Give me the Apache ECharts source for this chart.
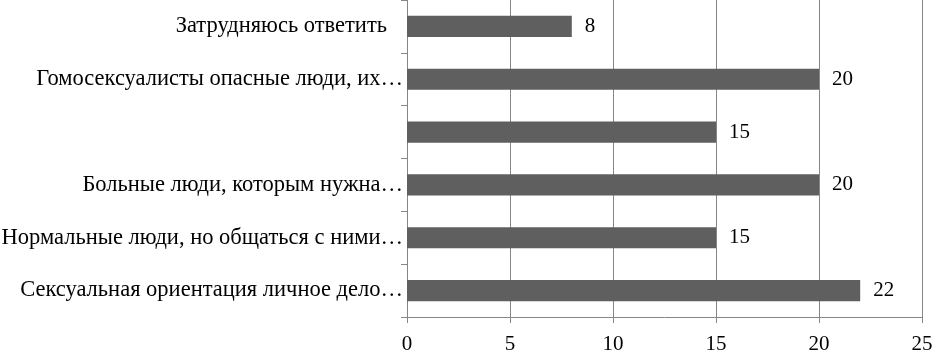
<!DOCTYPE html>
<html>
<head>
<meta charset="utf-8">
<script src="https://cdn.jsdelivr.net/npm/echarts@6/dist/echarts.min.js"></script>
<style>
  html, body { margin: 0; padding: 0; background: #ffffff; }
  #chart { width: 932px; height: 352px; }
</style>
</head>
<body>
<div id="chart"></div>
<script>
// Answers, listed bottom to top as they appear on the category axis
const categories = [
  'Сексуальная ориентация личное дело…',
  'Нормальные люди, но общаться с ними…',
  'Больные люди, которым нужна…',
  '',
  'Гомосексуалисты опасные люди, их…',
  'Затрудняюсь ответить'
];
const values = [22, 15, 20, 15, 20, 8];
const xTicks = [0, 5, 10, 15, 20, 25];

const FONT = '"Liberation Serif", "Times New Roman", serif';
const AXIS_GREY = '#868686';
const TEXT_SIZE = 22.5;
const NUM_SIZE = 21;

const chart = echarts.init(document.getElementById('chart'), null, { renderer: 'canvas' });
chart.setOption({
  animation: false,
  grid: {
    left: 407, right: 10, top: 0, bottom: 35,
    containLabel: false,
    outerBoundsMode: 'none'
  },
  xAxis: {
    type: 'value',
    min: xTicks[0],
    max: xTicks[xTicks.length - 1],
    interval: xTicks[1] - xTicks[0],
    axisLine: { show: true, lineStyle: { color: AXIS_GREY, width: 1 } },
    axisTick: { show: true, length: 6, lineStyle: { color: AXIS_GREY } },
    splitLine: { show: true, lineStyle: { color: AXIS_GREY, width: 1 } },
    axisLabel: { color: '#000', fontFamily: FONT, fontSize: NUM_SIZE, margin: 17 }
  },
  yAxis: {
    type: 'category',
    data: categories,
    axisLine: { show: true, lineStyle: { color: AXIS_GREY, width: 1 } },
    axisTick: { show: true, length: 6, alignWithLabel: false, lineStyle: { color: AXIS_GREY } },
    splitLine: { show: false },
    axisLabel: {
      color: '#000',
      fontFamily: FONT,
      fontSize: TEXT_SIZE,
      margin: 4,
      // full (non-shortened) answers sit a little further from the axis
      formatter: function (v) {
        return v && v.slice(-1) !== '…' ? '{full|' + v + '}' : v;
      },
      rich: {
        full: { color: '#000', fontFamily: FONT, fontSize: TEXT_SIZE, padding: [0, 16, 0, 0] }
      }
    }
  },
  series: [{
    type: 'bar',
    data: values,
    barCategoryGap: '60%',
    itemStyle: { color: '#5f5f5f' },
    label: {
      show: true,
      position: 'right',
      distance: 13,
      color: '#000',
      fontFamily: FONT,
      fontSize: NUM_SIZE
    }
  }]
});
</script>
</body>
</html>
